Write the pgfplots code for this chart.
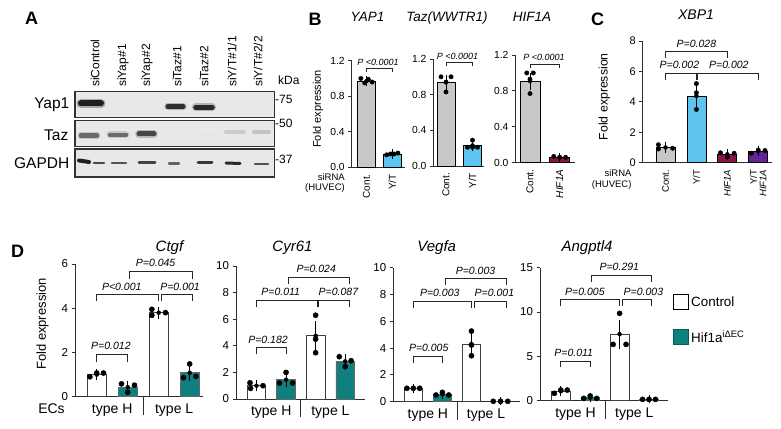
\documentclass[border=0pt]{standalone}
\usepackage{pgfplots}
\pgfplotsset{compat=1.18}
\usepackage{fontspec}
\setmainfont{Liberation Sans}
\newcommand\fs[1]{\fontsize{#1}{#1}\selectfont}
\definecolor{bgray}{RGB}{200,200,200}
\definecolor{lblue}{RGB}{95,195,240}
\definecolor{maroonb}{RGB}{140,20,70}
\definecolor{purp}{RGB}{100,35,150}
\definecolor{tealb}{RGB}{15,128,128}
\definecolor{axc}{RGB}{45,45,45}
\definecolor{blotbg}{RGB}{232,232,232}
\definecolor{blotedge}{RGB}{50,50,50}
\tikzset{
 pB/.style={anchor=south, inner sep=0pt, yshift=3pt, font=\fs{9}\itshape},
 pD/.style={anchor=south, inner sep=0pt, yshift=4pt, font=\fs{10.5}\itshape},
}
\pgfplotsset{
 gp/.style={scale only axis, anchor=south west, clip=false,
   axis lines=left, axis line style={-, line width=0.8pt, draw=axc},
   tick align=outside, major tick length=3.5pt,
   ytick style={line width=0.8pt, draw=axc},
   xtick style={draw=none},
   /pgf/number format/assume math mode=true,
   ymin=0},
 bax/.style={gp, ymax=1.2, ytick={0,0.4,0.8,1.2},
   yticklabel style={font=\fs{10.3}, /pgf/number format/fixed, /pgf/number format/fixed zerofill, /pgf/number format/precision=1},
   xtick={1,2}, xticklabel style={rotate=90, anchor=east, font=\fs{10}}},
 dax/.style={gp, yticklabel style={font=\fs{11.5}}, xtick=\empty},
 bar/.style={ybar, bar shift=0pt, line width=0.7pt},
 eb/.style={only marks, mark=none, error bars/.cd, y dir=both, y explicit,
   error bar style={line width=0.7pt, draw=black, solid},
   error mark options={mark size=4pt, line width=0.7pt, draw=black}},
 dots/.style={only marks, mark=*, mark size=2.2pt, mark options={fill=black, draw=black}},
 dotsD/.style={only marks, mark=*, mark size=2.6pt, mark options={fill=black, draw=black}},
 brk/.style={draw=black!85, line width=0.6pt, mark=none},
 band/.style={line cap=round, mark=none},
}
\begin{document}
\begin{tikzpicture}
\path[use as bounding box] (0,0) rectangle (781pt,428pt);

% ---------------- Panel labels
\node[font=\fs{18}\bfseries] at (31.7pt,409.7pt) {A};
\node[font=\fs{18}\bfseries] at (315pt,409pt) {B};
\node[font=\fs{18}\bfseries] at (597.5pt,409pt) {C};
\node[font=\fs{18}\bfseries] at (17.5pt,177pt) {D};

% ---------------- Panel A (blot)
\begin{axis}[scale only axis, anchor=south west, at={(74pt,250pt)}, width=201pt, height=87pt,
  xmin=74, xmax=275, ymin=-178, ymax=-91, hide axis, clip=false]
% strips
\addplot[fill=blotbg, draw=blotedge, line width=1.5pt, mark=none] coordinates {(74.75,-91.75) (274.25,-91.75) (274.25,-117.5) (74.75,-117.5)} -- cycle;
\addplot[fill=blotbg, draw=blotedge, line width=1.5pt, mark=none] coordinates {(74.75,-120.5) (274.25,-120.5) (274.25,-146.75) (74.75,-146.75)} -- cycle;
\addplot[fill=blotbg, draw=blotedge, line width=1.5pt, mark=none] coordinates {(74.75,-149.25) (274.25,-149.25) (274.25,-177.25) (74.75,-177.25)} -- cycle;
% Yap1 bands
\addplot[band, line width=9pt, draw=black!35] coordinates {(81,-103.5) (101,-103.5)};
\addplot[band, line width=6pt, draw=black!88] coordinates {(81,-103.5) (101,-103.5)};
\addplot[band, line width=7.5pt, draw=black!30] coordinates {(168,-106.5) (183,-106.5)};
\addplot[band, line width=5pt, draw=black!82] coordinates {(168,-106.5) (183,-106.5)};
\addplot[band, line width=8pt, draw=black!30] coordinates {(196,-107.5) (212,-107.5)};
\addplot[band, line width=5.5pt, draw=black!84] coordinates {(196,-107.5) (212,-107.5)};
% Taz bands
\addplot[band, line width=7pt, draw=black!22] coordinates {(81,-135.5) (97,-135.5)};
\addplot[band, line width=4.5pt, draw=black!58] coordinates {(81,-135.5) (97,-135.5)};
\addplot[band, line width=7pt, draw=black!22] coordinates {(110,-135) (126,-135)};
\addplot[band, line width=4.5pt, draw=black!58] coordinates {(110,-135) (126,-135)};
\addplot[band, line width=7.5pt, draw=black!28] coordinates {(139,-134) (154,-134)};
\addplot[band, line width=5pt, draw=black!72] coordinates {(139,-134) (154,-134)};
\addplot[band, line width=3pt, draw=black!10] coordinates {(199,-136) (213,-136)};
\addplot[band, line width=4pt, draw=black!20] coordinates {(226,-132) (244,-132)};
\addplot[band, line width=4pt, draw=black!24] coordinates {(254,-132) (269,-132)};
% GAPDH bands
\addplot[band, line width=4pt, draw=black!88] coordinates {(79,-160.5) (89,-162)};
\addplot[band, line width=2.5pt, draw=black!72] coordinates {(94,-163) (104,-163)};
\addplot[band, line width=2.5pt, draw=black!68] coordinates {(112,-163) (126,-163)};
\addplot[band, line width=3pt, draw=black!74] coordinates {(139,-163) (155,-163)};
\addplot[band, line width=2.5pt, draw=black!62] coordinates {(169,-163.5) (179,-163.5)};
\addplot[band, line width=3pt, draw=black!78] coordinates {(198,-163) (212,-163)};
\addplot[band, line width=3pt, draw=black!84] coordinates {(226,-163) (240,-163.5)};
\addplot[band, line width=2.5pt, draw=black!68] coordinates {(255,-164) (268,-164)};
\end{axis}
% lane labels
\foreach \x/\t in {95/{siControl},123/{siYap\#1},147/{siYap\#2},177/{siTaz\#1},204/{siTaz\#2},232/{siY/T\#1/1},258/{siY/T\#2/2}}
  \node[rotate=90, anchor=west, inner sep=0pt, font=\fs{12}] at (\x pt,341pt) {\t};
\node[anchor=west, inner sep=0pt, font=\fs{12}] at (278pt,348pt) {kDa};
\node[anchor=west, inner sep=0pt, font=\fs{12}] at (275pt,329pt) {-75};
\node[anchor=west, inner sep=0pt, font=\fs{12}] at (275pt,305pt) {-50};
\node[anchor=west, inner sep=0pt, font=\fs{12}] at (275pt,269pt) {-37};
\node[anchor=base east, inner sep=0pt, font=\fs{15.5}] at (69.5pt,319pt) {Yap1};
\node[anchor=base east, inner sep=0pt, font=\fs{15.5}] at (68.5pt,287pt) {Taz};
\node[anchor=base east, inner sep=0pt, font=\fs{15.5}] at (69.5pt,259pt) {GAPDH};

% ---------------- Panel B
\node[anchor=base, font=\fs{13.5}\itshape] at (367.5pt,406pt) {YAP1};
\node[anchor=base, font=\fs{13.5}\itshape] at (447pt,406pt) {Taz(WWTR1)};
\node[anchor=base, font=\fs{13.5}\itshape] at (532pt,406pt) {HIF1A};
\node[rotate=90, font=\fs{11}] at (318pt,319pt) {Fold expression};
\node[anchor=east, inner sep=0pt, font=\fs{9.5}] at (345pt,251.3pt) {siRNA};
\node[anchor=east, inner sep=0pt, font=\fs{9.5}] at (345pt,239.7pt) {(HUVEC)};

\begin{axis}[bax, at={(351.7pt,260.7pt)}, width=53.4pt, height=106.6pt, xmin=0.424, xmax=2.5,
  xticklabels={Cont.,Y/T}]
\addplot[bar, bar width=18.3pt, fill=bgray, draw=black] coordinates {(1,0.97)};
\addplot[bar, bar width=18.3pt, fill=lblue, draw=black] coordinates {(2,0.15)};
\addplot[eb] coordinates {(1,0.97) +- (0,0.015) (2,0.15) +- (0,0.006)};
\addplot[dots] coordinates {(0.78,1.0) (0.93,0.95) (1.07,0.99) (1.22,0.96) (1.78,0.14) (1.93,0.15) (2.07,0.15) (2.22,0.16)};
\addplot[brk] coordinates {(1,1.075) (1,1.11) (2,1.11) (2,1.075)};
\node[pB] at (axis cs:1.45,1.11) {P <0.0001};
\end{axis}

\begin{axis}[bax, at={(433.5pt,262pt)}, width=50.5pt, height=107pt, xmin=0.528, xmax=2.434,
  xticklabels={Cont.,Y/T}]
\addplot[bar, bar width=18.3pt, fill=bgray, draw=black] coordinates {(1,0.94)};
\addplot[bar, bar width=18.3pt, fill=lblue, draw=black] coordinates {(2,0.23)};
\addplot[eb] coordinates {(1,0.94) +- (0,0.04) (2,0.23) +- (0,0.02)};
\addplot[dots] coordinates {(0.81,1.0) (1.0,0.94) (1.0,0.83) (1.19,1.0) (1.81,0.21) (2.0,0.29) (2.0,0.21) (2.19,0.21)};
\addplot[brk] coordinates {(1,1.12) (1,1.16) (2,1.16) (2,1.12)};
\node[pB] at (axis cs:1.43,1.16) {P <0.0001};
\end{axis}

\begin{axis}[bax, at={(515.5pt,265.3pt)}, width=59.5pt, height=107.7pt, xmin=0.512, xmax=2.515,
  xticklabels={Cont.,\textit{HIF1A}}]
\addplot[bar, bar width=20pt, fill=bgray, draw=black] coordinates {(1,0.91)};
\addplot[bar, bar width=20pt, fill=maroonb, draw=black] coordinates {(2,0.06)};
\addplot[eb] coordinates {(1,0.91) +- (0,0.05) (2,0.06) +- (0,0.005)};
\addplot[dots] coordinates {(0.89,1.0) (1.11,1.0) (1.0,0.93) (1.0,0.77) (1.8,0.07) (2.0,0.06) (2.2,0.06)};
\addplot[brk] coordinates {(1,1.06) (1,1.1) (2,1.1) (2,1.06)};
\node[pB] at (axis cs:1.47,1.1) {P <0.0001};
\end{axis}

% ---------------- Panel C
\node[anchor=base, font=\fs{14}\itshape] at (696pt,408pt) {XBP1};
\node[rotate=90, font=\fs{12.3}] at (604.5pt,331.3pt) {Fold expression};
\node[anchor=east, inner sep=0pt, font=\fs{9.5}] at (631.7pt,254.7pt) {siRNA};
\node[anchor=east, inner sep=0pt, font=\fs{9.5}] at (631.7pt,243pt) {(HUVEC)};
\begin{axis}[gp, at={(642.7pt,265.3pt)}, width=129pt, height=121.7pt, xmin=0.262, xmax=4.437, ymax=8,
  ytick={0,2,4,6,8}, yticklabel style={font=\fs{11}},
  xtick={1,2,3,4}, xticklabels={Cont.,Y/T,\textit{HIF1A},{Y/T\\\textit{HIF1A}}},
  xticklabel style={rotate=90, anchor=east, font=\fs{9.5}, align=right}]
\addplot[bar, bar width=19pt, fill=bgray, draw=black] coordinates {(1,1.0)};
\addplot[bar, bar width=19pt, fill=lblue, draw=black] coordinates {(2,4.38)};
\addplot[bar, bar width=19pt, fill=maroonb, draw=black] coordinates {(3,0.55)};
\addplot[bar, bar width=19pt, fill=purp, draw=black] coordinates {(4,0.75)};
\addplot[eb] coordinates {(1,1.0) +- (0,0.1) (2,4.38) +- (0,0.48) (3,0.55) +- (0,0.08) (4,0.75) +- (0,0.07)};
\addplot[dots] coordinates {(0.77,1.18) (0.77,0.9) (1.23,0.95) (2,5.2) (2,4.6) (2,3.5) (2.78,0.65) (3.0,0.38) (3.22,0.62) (3.78,0.62) (4.0,0.83) (4.22,0.8)};
\addplot[brk] coordinates {(1,5.44) (1,5.88) (2,5.88) (2,5.44)};
\addplot[brk] coordinates {(2.04,5.44) (2.04,5.88) (4,5.88) (4,5.44)};
\addplot[brk] coordinates {(1,6.86) (1,7.3) (3,7.3) (3,6.86)};
\node[pD] at (axis cs:1.45,5.88) {P=0.002};
\node[pD] at (axis cs:3.05,5.88) {P=0.002};
\node[pD] at (axis cs:2.0,7.3) {P=0.028};
\end{axis}

% ---------------- Panel D
\node[rotate=90, font=\fs{13}] at (42.5pt,104pt) {Fold expression};
\node[anchor=base, inner sep=0pt, font=\fs{14}] at (51.5pt,14.8pt) {ECs};
\foreach \x/\t in {169.5/Ctgf,292.5/Cyr61,436.7/Vegfa,587/Angptl4}
  \node[anchor=base, inner sep=0pt, font=\fs{15}\itshape] at (\x pt,176.5pt) {\t};

% Ctgf
\begin{axis}[dax, at={(75pt,31.3pt)}, width=128pt, height=132.7pt, xmin=0.30, xmax=4.43, ymax=6, ytick={0,2,4,6}]
\addplot[bar, bar width=19pt, fill=white, draw=black!75] coordinates {(1,1.0) (3,3.8)};
\addplot[bar, bar width=19pt, fill=tealb, draw=black!60] coordinates {(2,0.43) (4,1.08)};
\addplot[eb] coordinates {(1,1.0) +- (0,0.06) (2,0.43) +- (0,0.12) (3,3.8) +- (0,0.09) (4,1.08) +- (0,0.2)};
\addplot[dotsD] coordinates {(0.78,0.9) (1.0,1.07) (1.22,1.07) (1.8,0.58) (2.0,0.2) (2.22,0.52) (2.78,3.95) (2.78,3.68) (3.22,3.8) (3.8,0.86) (4.0,1.48) (4.2,0.92)};
\addplot[brk] coordinates {(1,1.56) (1,1.92) (2,1.92) (2,1.56)};
\addplot[brk] coordinates {(1,4.31) (1,4.61) (3,4.61) (3,4.31)};
\addplot[brk] coordinates {(3.07,4.31) (3.07,4.61) (4.1,4.61) (4.1,4.31)};
\addplot[brk] coordinates {(2.05,5.33) (2.05,5.69) (4.1,5.69) (4.1,5.33)};
\node[pD] at (axis cs:1.46,1.92) {P=0.012};
\node[pD] at (axis cs:1.81,4.61) {P<0.001};
\node[pD] at (axis cs:3.69,4.61) {P=0.001};
\node[pD] at (axis cs:2.9,5.69) {P=0.045};
\draw[axc, line width=0.8pt] (axis cs:2.5,0) -- ++(0pt,-18pt);
\node[anchor=base, inner sep=0pt, font=\fs{14}] at (axis cs:1.5,0) [yshift=-16.5pt] {type H};
\node[anchor=base, inner sep=0pt, font=\fs{14}] at (axis cs:3.5,0) [yshift=-16.5pt] {type L};
\end{axis}

% Cyr61
\begin{axis}[dax, at={(236pt,29pt)}, width=129pt, height=133pt, xmin=0.307, xmax=4.67, ymax=10, ytick={0,2,4,6,8,10}]
\addplot[bar, bar width=18.5pt, fill=white, draw=black!75] coordinates {(1,1.0) (3,4.75)};
\addplot[bar, bar width=18.5pt, fill=tealb, draw=black!60] coordinates {(2,1.45) (4,2.83)};
\addplot[eb] coordinates {(1,1.0) +- (0,0.13) (2,1.45) +- (0,0.27) (3,4.75) +- (0,0.85) (4,2.83) +- (0,0.22)};
\addplot[dotsD] coordinates {(0.78,1.22) (0.8,0.8) (1.22,1.0) (1.78,1.2) (2.0,2.0) (2.22,1.2) (3,6.3) (3,4.5) (3,3.48) (3.8,3.18) (4.0,2.43) (4.2,2.88)};
\addplot[brk] coordinates {(1,3.38) (1,3.88) (2,3.88) (2,3.38)};
\addplot[brk] coordinates {(1,6.88) (1,7.43) (3.05,7.43) (3.05,6.88)};
\addplot[brk] coordinates {(3.1,6.88) (3.1,7.43) (4.14,7.43) (4.14,6.88)};
\addplot[brk] coordinates {(2.07,8.68) (2.07,9.18) (4.14,9.18) (4.14,8.68)};
\node[pD] at (axis cs:1.39,3.88) {P=0.182};
\node[pD] at (axis cs:1.82,7.43) {P=0.011};
\node[pD] at (axis cs:3.77,7.43) {P=0.087};
\node[pD] at (axis cs:3.02,9.18) {P=0.024};
\draw[axc, line width=0.8pt] (axis cs:2.5,0) -- ++(0pt,-18pt);
\node[anchor=base, inner sep=0pt, font=\fs{14}] at (axis cs:1.5,0) [yshift=-16.5pt] {type H};
\node[anchor=base, inner sep=0pt, font=\fs{14}] at (axis cs:3.5,0) [yshift=-16.5pt] {type L};
\end{axis}

% Vegfa
\begin{axis}[dax, at={(393.3pt,26.3pt)}, width=126.7pt, height=134pt, xmin=0.312, xmax=4.67, ymax=10, ytick={0,2,4,6,8,10}]
\addplot[bar, bar width=18.5pt, fill=white, draw=black!75] coordinates {(1,1.0) (3,4.3)};
\addplot[bar, bar width=18.5pt, fill=tealb, draw=black!60] coordinates {(2,0.55) (4,0.02)};
\addplot[eb] coordinates {(1,1.0) +- (0,0.02) (2,0.55) +- (0,0.05) (3,4.3) +- (0,0.53) (4,0.02) +- (0,0.003)};
\addplot[dotsD] coordinates {(0.78,1.0) (1.0,1.0) (1.22,1.0) (1.78,0.5) (2.0,0.7) (2.22,0.5) (3,5.27) (3,4.23) (3,3.43) (3.75,0.03) (4.0,0.03) (4.25,0.03)};
\addplot[brk] coordinates {(1,2.86) (1,3.41) (2,3.41) (2,2.86)};
\addplot[brk] coordinates {(1,6.97) (1,7.51) (3.01,7.51) (3.01,6.97)};
\addplot[brk] coordinates {(3.1,6.97) (3.1,7.51) (4.19,7.51) (4.19,6.97)};
\addplot[brk] coordinates {(2.09,8.71) (2.09,9.2) (4.2,9.2) (4.2,8.71)};
\node[pD] at (axis cs:1.53,3.41) {P=0.005};
\node[pD] at (axis cs:1.91,7.51) {P=0.003};
\node[pD] at (axis cs:3.79,7.51) {P=0.001};
\node[pD] at (axis cs:3.14,9.2) {P=0.003};
\draw[axc, line width=0.8pt] (axis cs:2.5,0) -- ++(0pt,-18pt);
\node[anchor=base, inner sep=0pt, font=\fs{14}] at (axis cs:1.5,0) [yshift=-16.5pt] {type H};
\node[anchor=base, inner sep=0pt, font=\fs{14}] at (axis cs:3.5,0) [yshift=-16.5pt] {type L};
\end{axis}

% Angptl4
\begin{axis}[dax, at={(540pt,27.3pt)}, width=128pt, height=133pt, xmin=0.293, xmax=4.646, ymax=15, ytick={0,5,10,15},
  legend style={at={(axis description cs:1.039,0.802)}, anchor=north west, draw=none, fill=none,
    font=\fs{13.4}, row sep=18.5pt, inner sep=0pt, cells={anchor=west}},
  legend image code/.code={\draw[#1, line width=1pt] (0pt,-7.5pt) rectangle (15pt,7.5pt);}]
\addlegendimage{fill=white, draw=black}
\addlegendentry{Control}
\addlegendimage{fill=tealb, draw=tealb!70!black}
\addlegendentry{Hif1a\textsuperscript{iΔEC}}
\addplot[bar, bar width=18.5pt, fill=white, draw=black!75] coordinates {(1,1.08) (3,7.5)};
\addplot[bar, bar width=18.5pt, fill=tealb, draw=black!60] coordinates {(2,0.35) (4,0.15)};
\addplot[eb] coordinates {(1,1.08) +- (0,0.12) (2,0.35) +- (0,0.09) (3,7.5) +- (0,1.17) (4,0.15) +- (0,0.01)};
\addplot[dotsD] coordinates {(0.78,0.83) (1.0,1.2) (1.22,1.2) (1.78,0.26) (2.0,0.53) (2.22,0.26) (2.78,6.35) (3.0,9.85) (3.22,6.35) (3.78,0.15) (4.0,0.15) (4.22,0.15)};
\addplot[brk] coordinates {(1,3.76) (1,4.47) (2,4.47) (2,3.76)};
\addplot[brk] coordinates {(1,10.71) (1,11.43) (3,11.43) (3,10.71)};
\addplot[brk] coordinates {(3.09,10.71) (3.09,11.43) (4.09,11.43) (4.09,10.71)};
\addplot[brk] coordinates {(2.05,13.42) (2.05,14.17) (4.09,14.17) (4.09,13.42)};
\node[pD] at (axis cs:1.44,4.47) {P=0.011};
\node[pD] at (axis cs:1.82,11.43) {P=0.005};
\node[pD] at (axis cs:3.81,11.43) {P=0.003};
\node[pD] at (axis cs:2.99,14.17) {P=0.291};
\draw[axc, line width=0.8pt] (axis cs:2.5,0) -- ++(0pt,-18pt);
\node[anchor=base, inner sep=0pt, font=\fs{14}] at (axis cs:1.5,0) [yshift=-16.5pt] {type H};
\node[anchor=base, inner sep=0pt, font=\fs{14}] at (axis cs:3.5,0) [yshift=-16.5pt] {type L};
\end{axis}
\end{tikzpicture}
\end{document}
